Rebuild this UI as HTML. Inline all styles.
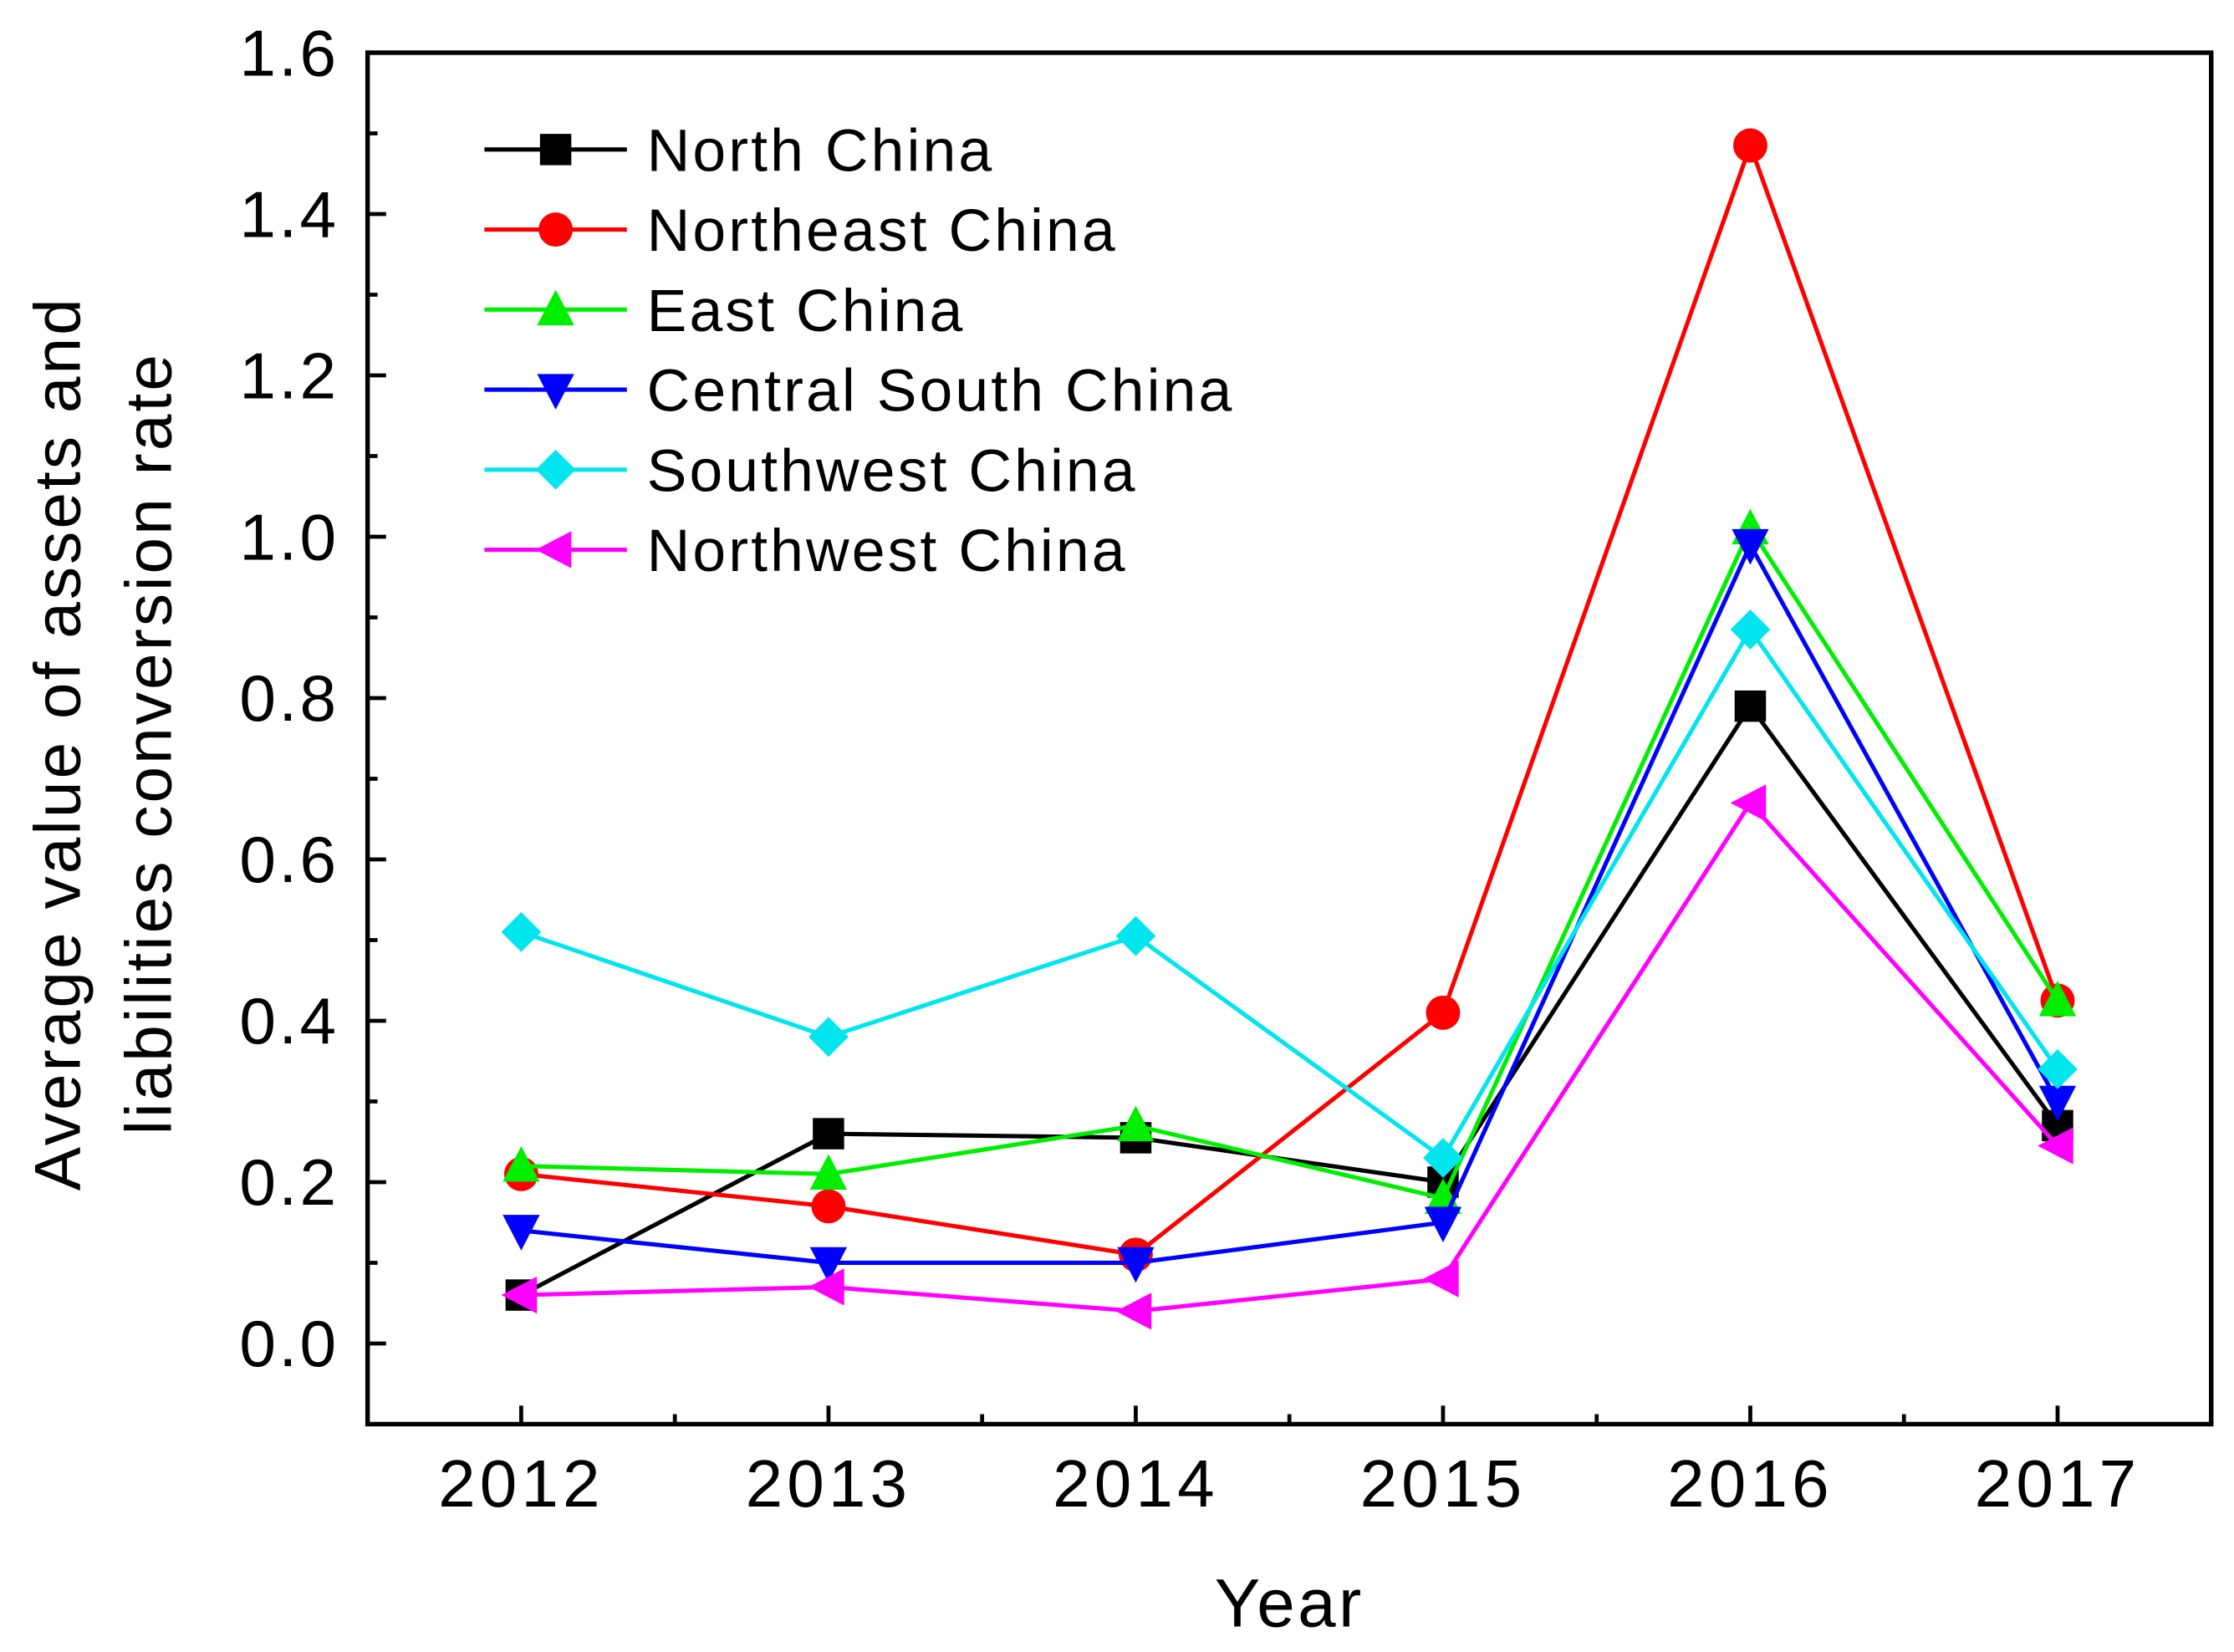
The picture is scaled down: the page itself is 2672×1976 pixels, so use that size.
<!DOCTYPE html>
<html><head><meta charset="utf-8"><style>
html,body{margin:0;padding:0;background:#fff;}
svg{display:block;font-family:"Liberation Sans",Arial,sans-serif;}
</style></head><body>
<svg id="chart" width="2672" height="1976" viewBox="0 0 1568 1160" preserveAspectRatio="none" xmlns="http://www.w3.org/2000/svg">
<g id="axes"></g>
<g id="series"></g>
<g id="legend"></g>
</svg>
<script>
const years = ["2012","2013","2014","2015","2016","2017"];
const yTicks = [0.0,0.2,0.4,0.6,0.8,1.0,1.2,1.4,1.6];
const seriesNames = ["North China","Northeast China","East China","Central South China","Southwest China","Northwest China"];
const northChina = [0.06,0.26,0.255,0.20,0.79,0.27];
const northeastChina = [0.21,0.17,0.11,0.41,1.485,0.425];
const eastChina = [0.22,0.21,0.27,0.18,1.01,0.425];
const centralSouthChina = [0.14,0.10,0.10,0.15,0.99,0.30];
const southwestChina = [0.51,0.38,0.505,0.23,0.885,0.34];
const northwestChina = [0.06,0.07,0.04,0.08,0.67,0.245];
const allSeries = [northChina,northeastChina,eastChina,centralSouthChina,southwestChina,northwestChina];
const colors = ["#000000","#ff0000","#00ee00","#0000ff","#00e5ee","#ff00ff"];
const shapes = ["square","circle","up","down","diamond","left"];

const L=258,R=1552,T=37,B=1000;
const yMin=-0.1,yMax=1.6,xMin=-0.5,xMax=5.5;
const X=i=>L+(i-xMin)/(xMax-xMin)*(R-L);
const Y=v=>B-(v-yMin)/(yMax-yMin)*(B-T);
const NS="http://www.w3.org/2000/svg";
function mk(tag,attrs,parent){const e=document.createElementNS(NS,tag);for(const k in attrs)e.setAttribute(k,attrs[k]);parent.appendChild(e);return e;}
const axes=document.getElementById('axes');
const frame=mk('rect',{x:L,y:T,width:R-L,height:B-T,fill:'none',stroke:'#000','stroke-width':3.2},axes);


for(let v=0;v<=1.6001;v+=0.1){
  const major=Math.round(v*10)%2===0;
  const t=mk('line',{x1:L,x2:L+(major?13:7),y1:Y(v),y2:Y(v),stroke:'#000','stroke-width':2.8},axes);
  
  
}
yTicks.forEach(v=>{
  const t=mk('text',{x:L-20,y:Y(v)+16,'text-anchor':'end','font-size':46,'letter-spacing':2},axes);
  t.textContent=v.toFixed(1);
  
  
});
for(let i=0;i<years.length;i++){
  const t=mk('line',{x1:X(i),x2:X(i),y1:B,y2:B-13,stroke:'#000','stroke-width':2.8},axes);
  
  
  if(i<years.length-1){
    const m=mk('line',{x1:X(i+0.5),x2:X(i+0.5),y1:B,y2:B-7,stroke:'#000','stroke-width':2.8},axes);
    
    
  }
  const lb=mk('text',{x:X(i),y:1058,'text-anchor':'middle','font-size':47,'letter-spacing':3},axes);
  lb.textContent=years[i];
  
  
}
const xt=mk('text',{x:905,y:1142,'text-anchor':'middle','font-size':48,'letter-spacing':2},axes);
xt.textContent="Year";


const yt=mk('text',{transform:'translate(56,522) rotate(-90)','text-anchor':'middle','font-size':46,'letter-spacing':1.8},axes);


const ts1=mk('tspan',{x:0,y:0},yt);ts1.textContent="Average value of assets and";
const ts2=mk('tspan',{x:0,y:64},yt);ts2.textContent="liabilities conversion rate";

function marker(shape,cx,cy,color,parent){
  const s=12;let e;
  if(shape==='square')e=mk('rect',{x:cx-s+1,y:cy-s+1,width:2*s-2,height:2*s-2,fill:color},parent);
  else if(shape==='circle')e=mk('circle',{cx:cx,cy:cy,r:s,fill:color},parent);
  else if(shape==='up')e=mk('polygon',{points:`${cx},${cy-s-2} ${cx-s-1},${cy+s-1} ${cx+s+1},${cy+s-1}`,fill:color},parent);
  else if(shape==='down')e=mk('polygon',{points:`${cx},${cy+s+2} ${cx-s-1},${cy-s+1} ${cx+s+1},${cy-s+1}`,fill:color},parent);
  else if(shape==='diamond')e=mk('polygon',{points:`${cx},${cy-s-2} ${cx+s+2},${cy} ${cx},${cy+s+2} ${cx-s-2},${cy}`,fill:color},parent);
  else e=mk('polygon',{points:`${cx-s-2},${cy} ${cx+s-1},${cy-s-1} ${cx+s-1},${cy+s+1}`,fill:color},parent);
  return e;
}
const sg=document.getElementById('series');
allSeries.forEach((data,k)=>{
  const g=mk('g',{},sg);
  
  
  const pl=mk('polyline',{points:data.map((v,i)=>X(i)+','+Y(v)).join(' '),fill:'none',stroke:colors[k],'stroke-width':3},g);
  
  
  data.forEach((v,i)=>{
    const m=marker(shapes[k],X(i),Y(v),colors[k],g);
    
    
  });
});
const lg=document.getElementById('legend');
seriesNames.forEach((n,k)=>{
  const y=105+k*56.2;
  const g=mk('g',{},lg);
  
  
  mk('line',{x1:340,x2:440,y1:y,y2:y,stroke:colors[k],'stroke-width':3},g);
  marker(shapes[k],390,y,colors[k],g);
  const t=mk('text',{x:454,y:y+15,'font-size':42,'letter-spacing':1.8},g);
  t.textContent=n;
});
</script>
</body></html>
